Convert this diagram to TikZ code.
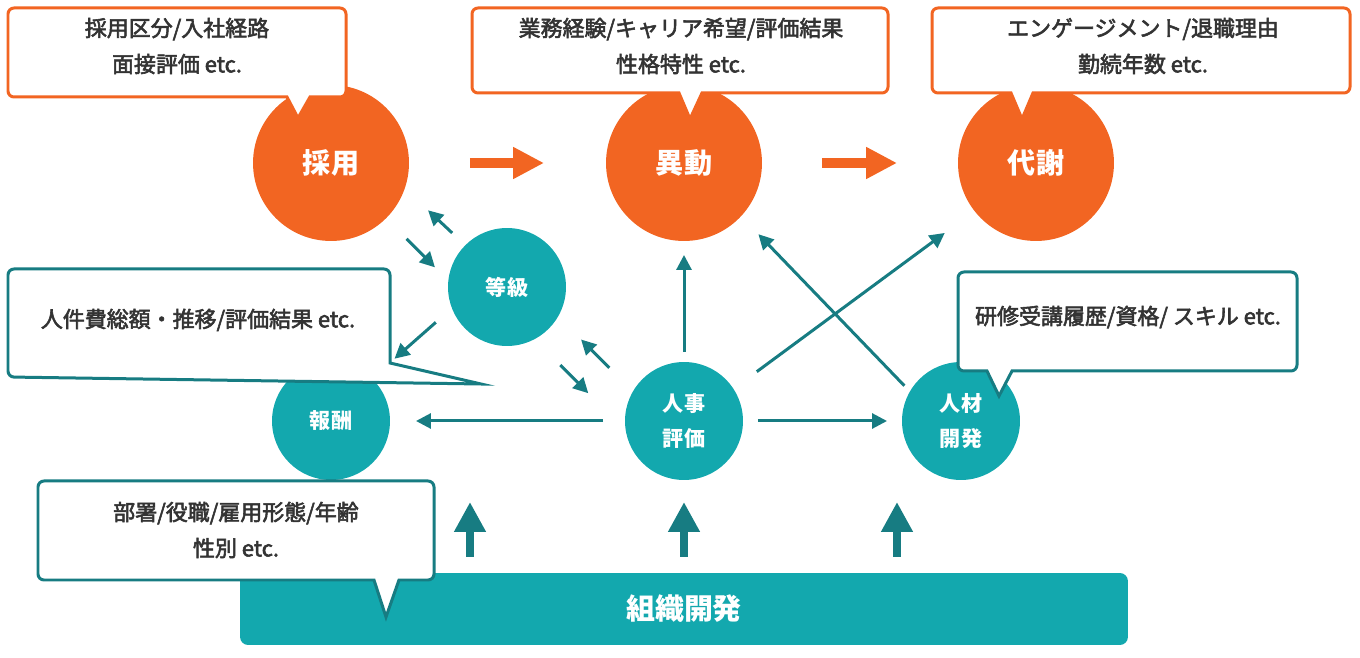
\documentclass[tikz,border=0pt]{standalone}
\usepackage{fontspec}
\setmainfont{Noto Sans CJK JP}
\newfontfamily\notefont{Noto Sans CJK JP}[RawFeature={embolden=2.5}]
\usetikzlibrary{arrows.meta}

\definecolor{hrorange}{HTML}{F26522}
\definecolor{hrteal}{HTML}{13A8AE}
\definecolor{hrdark}{HTML}{177C82}
\definecolor{hrtext}{HTML}{333333}

\tikzset{
  mainc/.style={circle,fill=hrorange,minimum size=3.12cm,inner sep=0pt,outer sep=0pt,
    text=white,font=\bfseries\fontsize{16}{20}\selectfont},
  subc/.style={circle,fill=hrteal,minimum size=2.36cm,inner sep=0pt,outer sep=0pt,
    text=white,align=center,font=\bfseries\fontsize{12}{20}\selectfont},
  orgbar/.style={rectangle,rounded corners=0.16cm,fill=hrteal,minimum width=17.76cm,
    minimum height=1.44cm,text=white,font=\bfseries\fontsize{16.5}{20}\selectfont},
  conn/.style={hrdark,line width=0.06cm,-{Triangle[length=0.3cm,width=0.3cm]}},
  flow/.style={hrorange,line width=0.2cm,-{Triangle[length=0.62cm,width=0.6cm]}},
  uparr/.style={hrdark,line width=0.16cm,-{Triangle[length=0.6cm,width=0.6cm]}},
  boxO/.style={draw=hrorange,fill=white,line width=0.06cm},
  boxT/.style={draw=hrdark,fill=white,line width=0.06cm},
  note/.style={text=hrtext,align=center,font=\notefont\fontsize{12.5}{20.5}\selectfont},
}

\begin{document}
\begin{tikzpicture}[x=0.02cm,y=-0.02cm]
  \useasboundingbox (0,0) rectangle (1360,658);

  % circles
  \node[mainc] (saiyou) at (331,163) {採用};
  \node[mainc] (idou) at (684,163) {異動};
  \node[mainc] (taisha) at (1036,163) {代謝};
  \node[subc] (toukyu) at (507,287) {等級};
  \node[subc] (housyu) at (331,421) {報酬};
  \node[subc] (jinji) at (684,421) {人事\\評価};
  \node[subc] (jinzai) at (961,421) {人材\\開発};
  \node[orgbar] (soshiki) at (684,609) {組織開発};

  % callouts
  \draw[boxO] (200,97) -- (287,97) -- (298,118) -- (310,97) -- (328,97) [rounded corners=0.12cm]
    -- (346,97) -- (346,8) -- (8,8) -- (8,97) -- cycle;
  \draw[boxO] (600,93) -- (679,93) -- (690,119) -- (702,93) -- (720,93) [rounded corners=0.12cm]
    -- (888,93) -- (888,8) -- (472,8) -- (472,93) -- cycle;
  \draw[boxO] (980,93) -- (1011,93) -- (1022,119) -- (1033,93) -- (1050,93) [rounded corners=0.12cm]
    -- (1350,93) -- (1350,8) -- (932,8) -- (932,93) -- cycle;
  \draw[boxT] (390,330) -- (390,363) -- (481,384) -- (244,380.5) [rounded corners=0.12cm]
    -- (8,377) -- (8,269) -- (390,269) -- cycle;
  \draw[boxT] (970,371) -- (987,371) -- (999,396) -- (1012,371) -- (1030,371) [rounded corners=0.12cm]
    -- (1297,371) -- (1297,272) -- (958,272) -- (958,371) -- cycle;
  \draw[boxT] (300,580) -- (374,580) -- (386,617) -- (399,580) -- (415,580) [rounded corners=0.12cm]
    -- (434,580) -- (434,481) -- (38,481) -- (38,580) -- cycle;

  \node[note] (n1) at (177,46) {採用区分/入社経路\\面接評価 etc.};
  \node[note] (n2) at (681,46) {業務経験/キャリア希望/評価結果\\性格特性 etc.};
  \node[note] (n3) at (1143,46) {エンゲージメント/退職理由\\勤続年数 etc.};
  \node[note] (n4) at (198,320) {人件費総額・推移/評価結果 etc.};
  \node[note] (n5) at (1128,317) {研修受講履歴/資格/ スキル etc.};
  \node[note] (n6) at (236,530) {部署/役職/雇用形態/年齢\\性別 etc.};

  % flow
  \draw[flow, shorten <=1.22cm, shorten >=1.24cm] (saiyou) -- (idou);
  \draw[flow, shorten <=1.2cm, shorten >=1.22cm] (idou) -- (taisha);

  % connectors
  \draw[conn, shorten <=0.2cm, shorten >=0.28cm] (jinji) -- (idou);
  \draw[conn, shorten <=0.58cm, shorten >=0.74cm] (jinji.33) -- (taisha.218);
  \draw[conn, shorten <=0.16cm, shorten >=0.5cm] (jinzai.150) -- (idou.-43);
  \draw[conn, shorten <=0.3cm, shorten >=0.3cm] (jinji) -- (jinzai);
  \draw[conn, shorten <=0.44cm, shorten >=0.52cm] (jinji) -- (housyu);
  \draw[conn, shorten <=0.43cm, shorten >=0.6cm] (toukyu.201) -- (housyu.46);
  \draw[conn, shorten <=0.36cm, shorten >=0.64cm] (toukyu.135) -- (saiyou.-19);
  \draw[conn, shorten <=0.58cm, shorten >=0.38cm] (saiyou.-45) -- (toukyu.174);
  \draw[conn, shorten <=0.67cm, shorten >=0.65cm] (jinji.150) -- (toukyu.-30);
  \draw[conn, shorten <=0.73cm, shorten >=1.07cm] (toukyu.-62) -- (jinji.190);

  % up arrows
  \foreach \x/\n in {470/a,684/b,897/c}{
    \coordinate (up\n) at (\x,502);
    \draw[uparr, shorten <=0.32cm] (soshiki.north -| up\n) -- (up\n);
  }
\end{tikzpicture}
\end{document}
